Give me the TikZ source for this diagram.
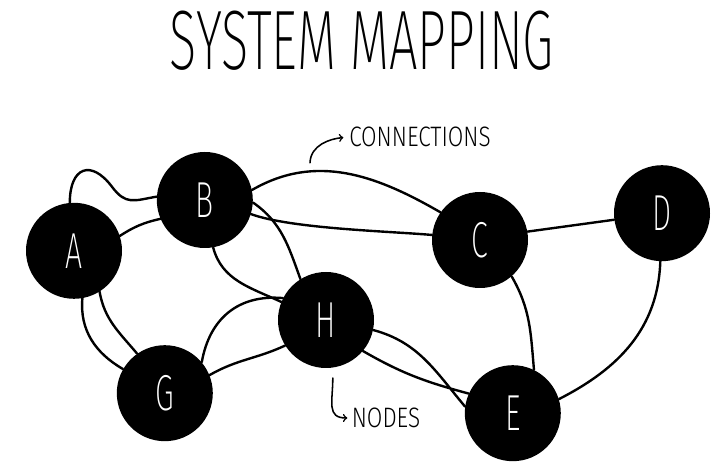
\documentclass[tikz,border=0pt]{standalone}
\usepackage{fontspec}
\IfFontExistsTF{Fira Sans ExtraLight}
	{\newfontfamily\handfont{Fira Sans ExtraLight}[FakeStretch=0.6]}
	{\newfontfamily\handfont{Fira Sans Light}[FakeStretch=0.6]}
\newfontfamily\notefont{Fira Sans Light}[FakeStretch=0.8]
\usetikzlibrary{arrows}

\tikzset{
	blob/.style={circle,fill=black,text=white,minimum size=2.4cm,inner sep=0pt,
		font=\handfont\fontsize{36}{36}\selectfont},
	link/.style={line width=1.7pt},
	note/.style={font=\notefont\fontsize{20}{20}\selectfont,inner sep=1pt}
}

\begin{document}
\begin{tikzpicture}[line cap=round]
		\fill [white] (0,0) rectangle (18,11.55);
		\node [font=\handfont\fontsize{60}{60}\selectfont] at (9.05,10.52) (title) {SYSTEM MAPPING};
		\node [blob] at (1.85,5.28) (A) {A};
		\node [blob] at (5.12,6.55) (B) {B};
		\node [blob] at (8.15,3.55) (H) {H};
		\node [blob] at (4.12,1.72) (G) {G};
		\node [blob] at (12,5.55) (C) {C};
		\node [blob] at (12.82,1.22) (E) {E};
		\node [blob] at (16.55,6.22) (D) {D}
			edge [link] (C.10)
			edge [link,out=-92,in=27] (E.17);
		\coordinate (ab) at (2.8,6.88);
		\draw [link] (A.95) to [out=90,in=127,looseness=2] (ab) to [out=-53,in=190,looseness=1.3] (B.176);
		\draw [link] (A.18) to [bend left=10] (B.203);
		\draw [link] (A.-80) to [out=-95,in=150] (G.150)
			(A.-58) to [out=-80,in=130] (G.125);
		\draw [link] (B.-80) to [out=-75,in=155] (H.158)
			(B.-3) to [out=-35,in=110] (H.122);
		\draw [link] (B.12) to [out=30,in=150] (C.145)
			(B.-17) to [out=-20,in=175,looseness=0.6] (C.174);
		\draw [link] (G.40) to [out=80,in=175,looseness=1.1] (H.153)
			(G.22) to [out=30,in=205] (H.212);
		\draw [link] (C.-49) to [out=-60,in=95] (E.64);
		\draw [link] (H.-12) to [out=-15,in=130] (E.172)
			(H.-40) to [out=-30,in=165] (E.156);
		\node [note] at (10.5,8.12) (conn) {CONNECTIONS};
		\node [note] at (9.65,1.1) (nodes) {NODES};
		\coordinate (connfrom) at (7.75,7.48);
		\coordinate (nodesfrom) at (8.32,2.1);
		\draw [->,line width=1.1pt,shorten >=3pt] (connfrom) to [out=88,in=185] (conn.west);
		\draw [->,line width=1.1pt,shorten >=2pt] (nodesfrom) to [out=-90,in=180,looseness=1.4] (nodes.west);
\end{tikzpicture}
\end{document}
